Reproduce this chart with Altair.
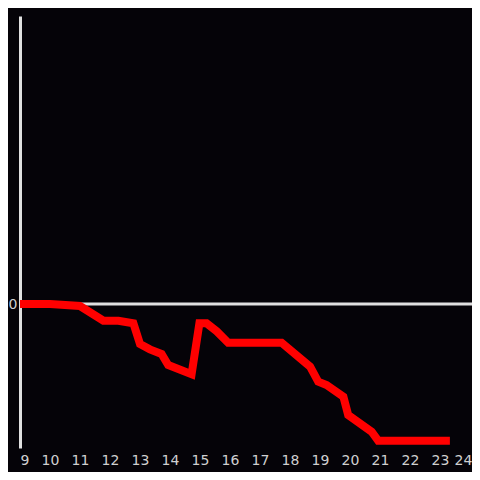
import altair as alt
import pandas as pd

xs = [9.0, 10.0, 11.0, 11.78, 12.28, 12.78, 13.0, 13.33, 13.72, 13.94, 14.72, 14.98, 15.22, 15.56, 15.94,
      17.72, 18.67, 18.94, 19.22, 19.78, 19.94, 20.72, 20.94, 23.33]
ys = [0.0, 0.0, -0.014, -0.116, -0.116, -0.134, -0.278, -0.315, -0.347, -0.424, -0.488, -0.134, -0.134, -0.19, -0.269,
      -0.269, -0.435, -0.539, -0.5625, -0.644, -0.771, -0.887, -0.949, -0.949]
x_ticks = list(range(9, 25))

df = pd.DataFrame({"x": xs, "y": ys})
zero = pd.DataFrame({"y": [0.0]})

xscale = alt.Scale(domain=[9, 24.067], nice=False, zero=False)
yscale = alt.Scale(domain=[-1, 2], nice=False)

line = alt.Chart(df).mark_line(color="#ff0000", strokeWidth=8, strokeJoin="miter", strokeCap="butt").encode(
    x=alt.X("x:Q", scale=xscale,
            axis=alt.Axis(values=x_ticks, domain=False, ticks=False, grid=False, title=None,
                          labelColor="#d0d0d0", labelFontSize=14, labelPadding=5, labelFont="DejaVu Sans",
                          labelOffset=alt.expr("datum.value == 24 ? -7 : 0"))),
    y=alt.Y("y:Q", scale=yscale,
            axis=alt.Axis(values=[0], domain=True, domainColor="#e0e0e0", domainWidth=3, ticks=False,
                          tickSize=0, grid=False, title=None, labelColor="#d0d0d0", labelFontSize=14,
                          labelPadding=3, labelFont="DejaVu Sans")),
)

rule = alt.Chart(zero).mark_rule(color="#e0e0e0", strokeWidth=3).encode(
    y=alt.Y("y:Q", scale=yscale),
    x=alt.value(0),
    x2=alt.value(452),
)

chart = alt.layer(rule, line).properties(
    width=452, height=432,
    background="#050308",
    padding={"left": 12, "top": 8, "right": 0, "bottom": 24},
    autosize=alt.AutoSizeParams(type="none"),
).configure_view(stroke=None)

chart.save("out.html", embed_options={"renderer": "svg", "actions": False})
